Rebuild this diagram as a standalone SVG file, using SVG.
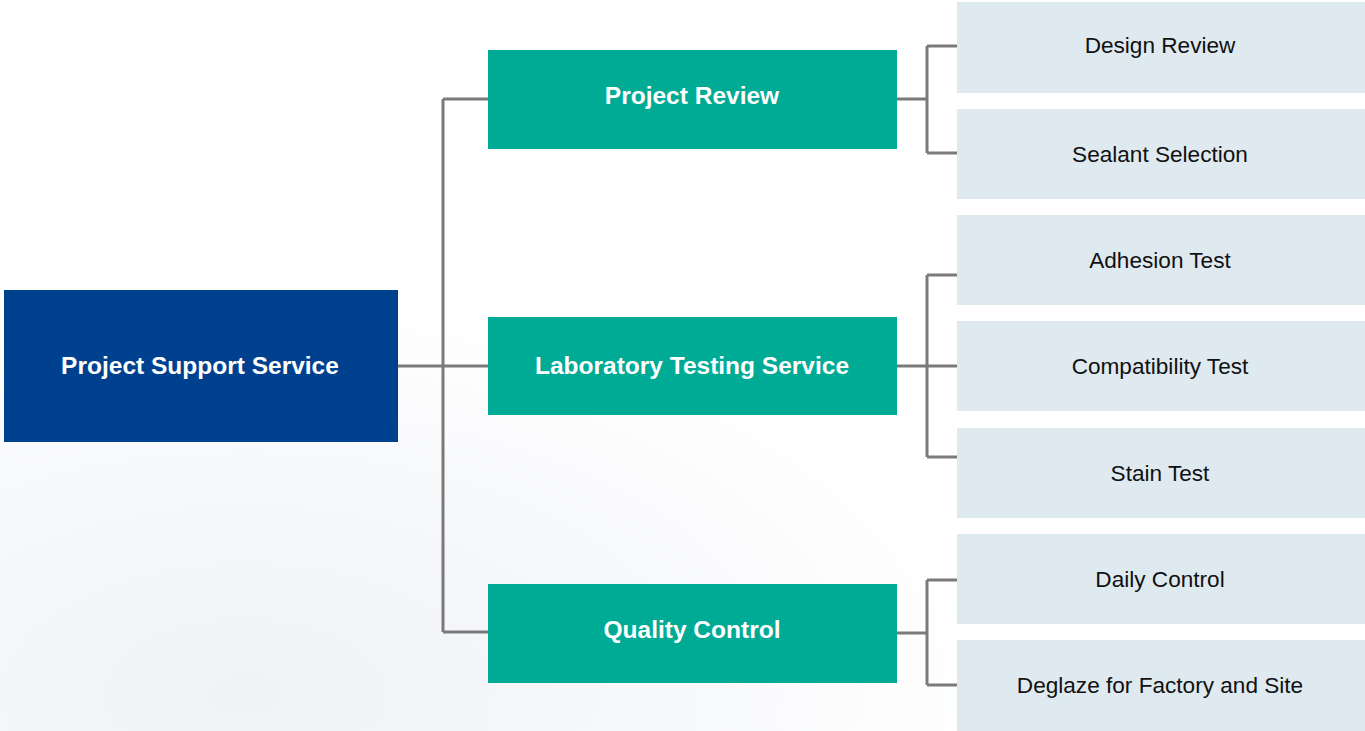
<svg xmlns="http://www.w3.org/2000/svg" width="1365" height="731" viewBox="0 0 1365 731">
<defs>
<radialGradient id="bg" cx="0.18" cy="0.95" r="0.55">
<stop offset="0" stop-color="#f0f2f5"/>
<stop offset="0.6" stop-color="#f8f9fb"/>
<stop offset="1" stop-color="#ffffff"/>
</radialGradient>
<style>
.root{fill:#00418f}
.mid{fill:#00ab96}
.leaf{fill:#dfe9f0}
.wt{font-family:"Liberation Sans",Arial,sans-serif;font-weight:bold;font-size:24.5px;fill:#ffffff;text-anchor:middle}
.lt{font-family:"Liberation Sans",Arial,sans-serif;font-size:22.6px;fill:#111111;text-anchor:middle}
.ln{fill:none;stroke:#7a7a7a;stroke-width:3}
</style>
</defs>
<rect x="0" y="0" width="1365" height="731" fill="url(#bg)"/>
<g id="connectors">
<path class="ln" d="M398 366H488M443 99V632M443 99H488M443 632H488"/>
<path class="ln" d="M897 99H927M927 46V153M927 46H957M927 153H957"/>
<path class="ln" d="M897 366H957M927 275V457M927 275H957M927 457H957"/>
<path class="ln" d="M897 633H927M927 580V685M927 580H957M927 685H957"/>
</g>
<g id="root"><rect class="root" x="4" y="290" width="394" height="152"/><text class="wt" x="200" y="374">Project Support Service</text></g>
<g id="project-review"><rect class="mid" x="488" y="50" width="409" height="99"/><text class="wt" x="692" y="104">Project Review</text></g>
<g id="lab-testing"><rect class="mid" x="488" y="317" width="409" height="98"/><text class="wt" x="692" y="374">Laboratory Testing Service</text></g>
<g id="quality-control"><rect class="mid" x="488" y="584" width="409" height="99"/><text class="wt" x="692" y="638">Quality Control</text></g>
<g id="design-review"><rect class="leaf" x="957" y="2" width="408" height="91"/><text class="lt" x="1160" y="53">Design Review</text></g>
<g id="sealant-selection"><rect class="leaf" x="957" y="109" width="408" height="90"/><text class="lt" x="1160" y="162">Sealant Selection</text></g>
<g id="adhesion-test"><rect class="leaf" x="957" y="215" width="408" height="90"/><text class="lt" x="1160" y="268">Adhesion Test</text></g>
<g id="compatibility-test"><rect class="leaf" x="957" y="321" width="408" height="90"/><text class="lt" x="1160" y="374">Compatibility Test</text></g>
<g id="stain-test"><rect class="leaf" x="957" y="428" width="408" height="90"/><text class="lt" x="1160" y="481">Stain Test</text></g>
<g id="daily-control"><rect class="leaf" x="957" y="534" width="408" height="90"/><text class="lt" x="1160" y="587">Daily Control</text></g>
<g id="deglaze"><rect class="leaf" x="957" y="640" width="408" height="91"/><text class="lt" x="1160" y="693">Deglaze for Factory and Site</text></g>
</svg>
